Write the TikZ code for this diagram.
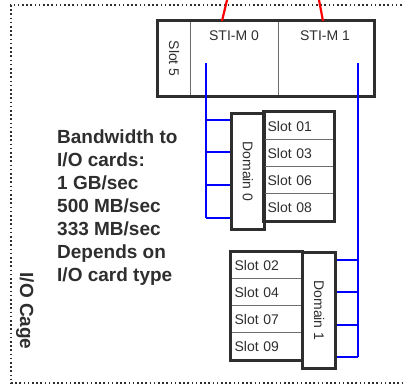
\documentclass[tikz,border=0pt]{standalone}
\usepackage{fontspec}
\setmainfont{Liberation Sans}
\usepackage{graphicx}
\usetikzlibrary{positioning}
\definecolor{boxgray}{HTML}{2E2E2E}
\definecolor{linegray}{HTML}{6E6E6E}
\tikzset{
  frame/.style={draw=boxgray, line width=1.6pt, dash pattern=on 1.6pt off 2.6pt},
  cell/.style={draw=linegray, line width=1.2pt, inner sep=0pt, text=boxgray,
    font=\fontsize{14}{17}\selectfont},
  slotcell/.style={cell, minimum height=27pt, inner xsep=4pt, align=left, anchor=north west},
  rim/.style={draw=boxgray, line width=3pt},
  celltext/.style={text=boxgray, inner sep=0pt, font=\fontsize{14}{17}\selectfont},
  note/.style={text=boxgray, inner sep=0pt, font=\bfseries\fontsize{19}{23}\selectfont},
  bus/.style={draw=blue, line width=2.2pt},
  feed/.style={draw=red, line width=2.2pt}
}
\begin{document}
\begin{tikzpicture}[x=1pt,y=-1pt]
\useasboundingbox (0,0) rectangle (404,390);
% I/O cage frame
\draw[frame] (410,5) -- (11,5) -- (11,383) -- (410,383);
\node[note, rotate=-90] (cage) at (25,311) {I/O Cage};
\node[note, align=left, anchor=north west] (bw) at (57,130)
  {Bandwidth to\\I/O cards:\\1 GB/sec\\500 MB/sec\\333 MB/sec\\Depends on\\I/O card type};
% slot 5 with the two STI-M cards
\node[cell, minimum width=33pt, minimum height=74pt, anchor=north west] (slot5) at (157,21)
  {\rotatebox{-90}{Slot 5}};
\node[cell, minimum width=88pt, minimum height=74pt, anchor=north west] (stim0) at (190,21) {};
\node[cell, minimum width=95pt, minimum height=74pt, anchor=north west] (stim1) at (278,21) {};
\node[celltext] (stim0txt) at (234,36) {STI-M 0};
\node[celltext] (stim1txt) at (325,36) {STI-M 1};
\draw[rim] (slot5.north west) rectangle (stim1.south east);
% domain 0
\node[cell, rim, minimum width=33pt, minimum height=116pt, anchor=north west] (dom0) at (230,112)
  {\rotatebox{-90}{Domain 0}};
\foreach \s [count=\i from 0] in {01,03,06,08}
  \node[slotcell, text width=62pt] (slot\s) at (263,{112+27*\i}) {Slot \s};
\draw[rim] (slot01.north west) rectangle (slot08.south east);
% domain 1
\node[cell, rim, minimum width=33pt, minimum height=116pt, anchor=north west] (dom1) at (301,251)
  {\rotatebox{-90}{Domain 1}};
\foreach \s [count=\i from 0] in {02,04,07,09}
  \node[slotcell, text width=63pt] (slot\s) at (230,{251+27*\i}) {Slot \s};
\draw[rim] (slot02.north west) rectangle (slot09.south east);
% STI feeds
\coordinate (in0) at (227,0);
\coordinate (in0b) at (222,21);
\coordinate (in1) at (319,0);
\coordinate (in1b) at (323,21);
\draw[feed] (in0) -- (in0b);
\draw[feed] (in1) -- (in1b);
% buses to the domains
\coordinate (tap0) at (206,63);
\coordinate (tap1) at (358,63);
\foreach \y [count=\i] in {120,152,185,218} {
  \coordinate (j0\i) at (206,\y);
  \draw[bus] (j0\i) -- (j0\i -| dom0.west);
}
\foreach \y [count=\i] in {260,292,325,357} {
  \coordinate (j1\i) at (358,\y);
  \draw[bus] (j1\i) -- (j1\i -| dom1.east);
}
\draw[bus] (tap0) -- (j04);
\draw[bus] (tap1) -- (j14);
\end{tikzpicture}
\end{document}
